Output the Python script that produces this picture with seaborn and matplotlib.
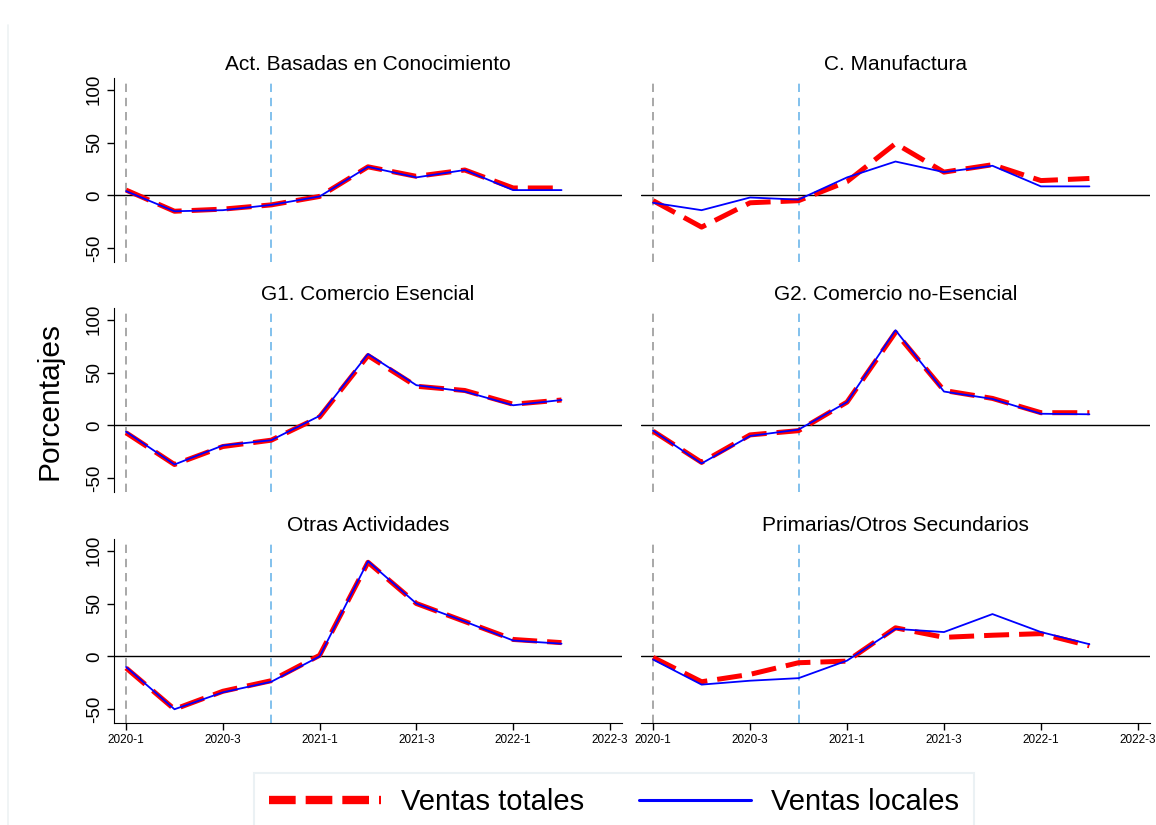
import numpy as np
import pandas as pd
import matplotlib
matplotlib.use("Agg")
import matplotlib.pyplot as plt
from matplotlib.lines import Line2D
import seaborn as sns

sns.set_style("white")
plt.rcParams['font.family'] = ['Liberation Sans', 'DejaVu Sans']
plt.rcParams['text.color'] = 'black'
plt.rcParams['xtick.color'] = 'black'
plt.rcParams['ytick.color'] = 'black'

# Quarters (data runs 2020-1 .. 2022-2, axis goes to 2022-3)
all_quarters = ['2020-1', '2020-2', '2020-3', '2020-4', '2021-1', '2021-2',
                '2021-3', '2021-4', '2022-1', '2022-2', '2022-3']
quarters = all_quarters[:10]
tick_labels = all_quarters[::2]

panel_titles = ['Act. Basadas en Conocimiento', 'C. Manufactura',
                'G1. Comercio Esencial', 'G2. Comercio no-Esencial',
                'Otras Actividades', 'Primarias/Otros Secundarios']

# Ventas totales / Ventas locales por sector (%)
conoc_tot = [5, -15, -13, -9, -1, 27, 18, 24, 7, 7]
conoc_loc = [4, -15, -14, -9, -1, 27, 17, 24, 5, 5]
manuf_tot = [-5, -30, -7, -5, 13, 49, 22, 29, 14, 16]
manuf_loc = [-7, -14, -2, -4, 17, 32, 22, 28, 8.5, 8.5]
g1_tot = [-7, -37, -20, -14, 8, 66, 37, 33, 20, 24]
g1_loc = [-6, -37, -19, -14, 9, 67.5, 38, 32, 19, 24]
g2_tot = [-5.5, -35, -9, -5, 22, 88, 33, 25.5, 12, 12]
g2_loc = [-5, -36, -10, -4, 22, 90, 32, 25, 11, 10.5]
otras_tot = [-11, -50, -33, -23, 1, 89, 50, 33, 16, 13]
otras_loc = [-10, -50, -34, -24, 0, 90, 50, 33, 15, 12]
prim_tot = [-1, -24, -17, -6, -4.5, 27, 18, 20, 21.5, 10]
prim_loc = [-3, -26.7, -23, -20.6, -4, 26, 23, 40, 23, 11.5]

series_tot = [conoc_tot, manuf_tot, g1_tot, g2_tot, otras_tot, prim_tot]
series_loc = [conoc_loc, manuf_loc, g1_loc, g2_loc, otras_loc, prim_loc]

# long-form table
rows = []
for title, tot, loc in zip(panel_titles, series_tot, series_loc):
    for i, q in enumerate(quarters):
        rows.append((title, q, i, 'Ventas totales', tot[i]))
        rows.append((title, q, i, 'Ventas locales', loc[i]))
df = pd.DataFrame(rows, columns=['sector', 'trimestre', 't', 'serie', 'valor'])

palette = {'Ventas totales': '#ff0000', 'Ventas locales': '#0000ff'}
dashes = {'Ventas totales': (5, 2), 'Ventas locales': ''}
sizes = {'Ventas totales': 3.6, 'Ventas locales': 1.3}
order = ['Ventas totales', 'Ventas locales']

fig = plt.figure(figsize=(11.56, 8.25), dpi=100)

W, H = 1156, 825
col_left = [114, 641]
col_width = [508, 509]
row_bottom = [262, 492, 723]
ax_h = 184

for k, title in enumerate(panel_titles):
    r, c = divmod(k, 2)
    ax = fig.add_axes([col_left[c] / W, 1 - row_bottom[r] / H,
                       col_width[c] / W, ax_h / H])
    sub = df[df['sector'] == title]
    ax.axhline(0, color='black', lw=1.0, zorder=1)
    ax.axvline(0, color='#999999', lw=1.2, dashes=(5, 3.5), zorder=1)
    ax.axvline(3, color='#6db6ea', lw=1.2, dashes=(5, 3.5), zorder=1)
    sns.lineplot(data=sub, x='t', y='valor', hue='serie', style='serie',
                 size='serie', hue_order=order, style_order=order,
                 size_order=order, palette=palette, dashes=dashes,
                 sizes=sizes, legend=False, ax=ax, zorder=3)
    ax.set_xlim(-0.25, 10.25)
    ax.set_ylim(-63, 111)
    ax.set_title(title, fontsize=15, pad=6)
    ax.set_xlabel('')
    ax.set_ylabel('')
    for s in ['top', 'right']:
        ax.spines[s].set_visible(False)
    ax.set_xticks(range(0, len(all_quarters), 2))
    if r == 2:
        ax.set_xticklabels(tick_labels, fontsize=8.5)
        ax.spines['bottom'].set_color('black')
        ax.tick_params(axis='x', length=5, width=1, direction='out',
                       bottom=True, pad=3)
    else:
        ax.spines['bottom'].set_visible(False)
        ax.tick_params(axis='x', bottom=False, labelbottom=False)
    ax.set_yticks([-50, 0, 50, 100])
    if c == 0:
        ax.spines['left'].set_color('black')
        ax.set_yticklabels(['-50', '0', '50', '100'], fontsize=13.5,
                           rotation=90, va='center')
        ax.tick_params(axis='y', length=5, width=1, direction='out',
                       left=True, pad=3)
    else:
        ax.spines['left'].set_visible(False)
        ax.tick_params(axis='y', left=False, labelleft=False)

fig.text(50 / W, 1 - 401 / H, 'Porcentajes', rotation=90, fontsize=21.5,
         ha='center', va='center')

handles = [Line2D([], [], color='#ff0000', lw=6, dashes=(3.2, 1.2)),
           Line2D([], [], color='#0000ff', lw=2.2)]
leg = fig.legend(handles, order, loc='center', ncol=2, fontsize=21,
                 bbox_to_anchor=(614 / W, 1 - 802 / H), frameon=True,
                 fancybox=False, handlelength=3.85, columnspacing=1.85,
                 borderpad=0.5, handletextpad=0.7, borderaxespad=0)
leg.get_frame().set_edgecolor('#e6eef2')
leg.get_frame().set_linewidth(1.5)

fig.add_artist(Line2D([8 / W, 8 / W], [0, 0.97], color='#eef2f4', lw=1.2))

fig.savefig('out.png', dpi=100)
